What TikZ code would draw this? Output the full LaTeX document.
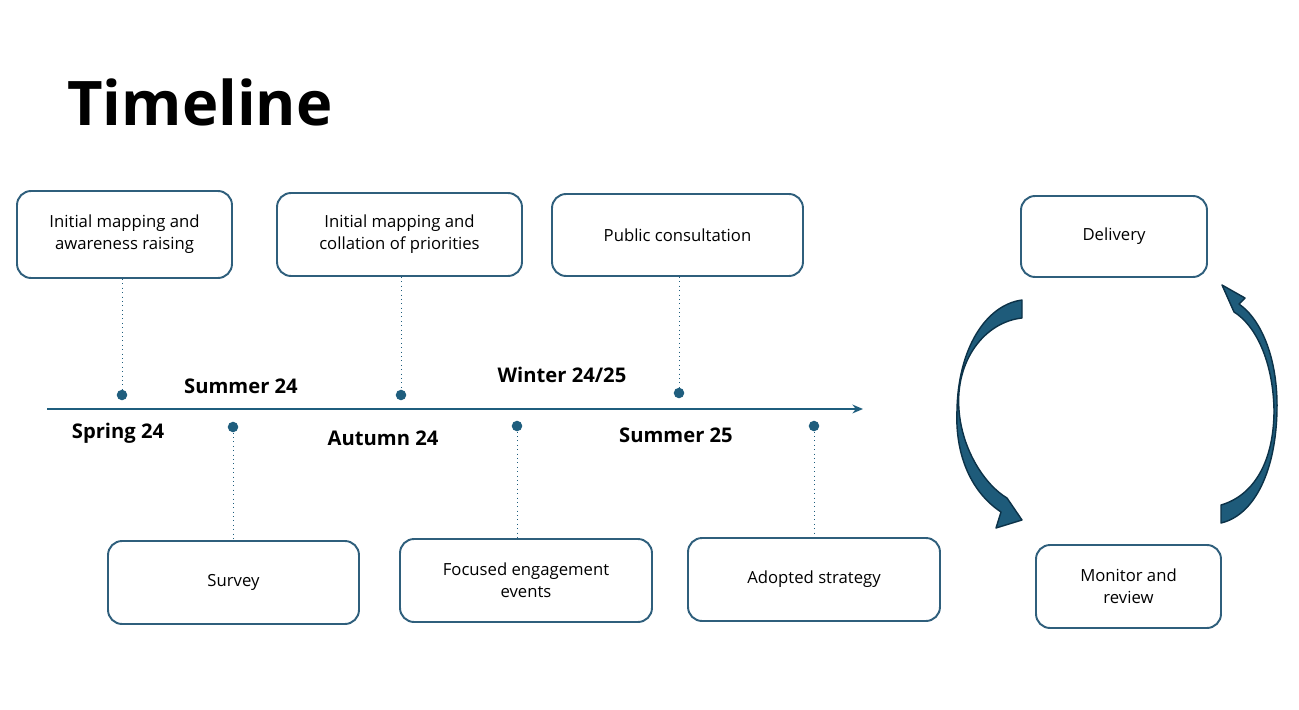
\documentclass[tikz,border=0pt]{standalone}
\usepackage{fontspec}
\setmainfont{Open Sans}
\usetikzlibrary{arrows.meta}
\definecolor{edgeblue}{HTML}{2F5F7C}
\definecolor{dotblue}{HTML}{1F5E7E}
\definecolor{arrowfill}{HTML}{1E5B7A}
\definecolor{arrowline}{HTML}{0C3248}
\tikzset{
  stage/.style={draw=edgeblue,line width=1.1pt,rounded corners=8pt,align=center,
    font=\fontsize{9.5}{12.5}\selectfont,inner sep=0pt},
  season/.style={font=\fontsize{11.5}{13}\selectfont\bfseries},
  pin/.style={fill=dotblue,circle,inner sep=0pt,minimum size=6pt},
  tie/.style={dotted,draw=dotblue,line width=0.5pt},
  cycle/.style={fill=arrowfill,draw=arrowline,line width=0.8pt,line join=round}
}
\begin{document}
\begin{tikzpicture}[x=0.02cm,y=-0.02cm]
\useasboundingbox (0,0) rectangle (1299,710);

\node[font=\fontsize{35}{40}\selectfont\bfseries] (title) at (200,102) {Timeline};

% stages above the line
\node[stage,minimum width=4.3cm,minimum height=1.74cm] (map) at (124.5,234.5) {Initial mapping and\\awareness raising};
\node[stage,minimum width=4.9cm,minimum height=1.66cm] (coll) at (399.5,234.5) {Initial mapping and\\collation of priorities};
\node[stage,minimum width=5.02cm,minimum height=1.64cm] (cons) at (677.5,235) {Public consultation};
\node[stage,minimum width=3.72cm,minimum height=1.62cm] (deliv) at (1114,236.5) {Delivery};

% stages below the line
\node[stage,minimum width=5.02cm,minimum height=1.66cm] (surv) at (233.5,582.5) {Survey};
\node[stage,minimum width=5.04cm,minimum height=1.66cm] (focus) at (526,580.5) {Focused engagement\\events};
\node[stage,minimum width=5.04cm,minimum height=1.66cm] (adopt) at (814,579.5) {Adopted strategy};
\node[stage,minimum width=3.7cm,minimum height=1.66cm] (monit) at (1128.5,586.5) {Monitor and\\review};

% time line
\coordinate (start) at (47,409);
\coordinate (stop) at (863,409);
\draw[draw=dotblue,line width=1.3pt,-{Stealth[length=6pt,width=5pt]}] (start) -- (stop);

\node[pin] (p1) at (122,395) {};
\node[pin] (p2) at (401,395) {};
\node[pin] (p3) at (679,393) {};
\node[pin] (p4) at (233,427) {};
\node[pin] (p5) at (517,426) {};
\node[pin] (p6) at (814,426) {};

\draw[tie] (map.south -| p1) -- (p1);
\draw[tie] (coll.south -| p2) -- (p2);
\draw[tie] (cons.south -| p3) -- (p3);
\draw[tie] (p4) -- (surv.north -| p4);
\draw[tie] (p5) -- (focus.north -| p5);
\draw[tie] (p6) -- (adopt.north -| p6);

\node[season] (spr) at (118,433) {Spring 24};
\node[season] (sum) at (241,386) {Summer 24};
\node[season] (aut) at (383,438) {Autumn 24};
\node[season] (win) at (562,375) {Winter 24/25};
\node[season] (sum2) at (676,435) {Summer 25};

% cycle arrows
\draw[cycle] (1022,300) -- (1022,318) .. controls (985,322) and (955,360) .. (959,410)
  .. controls (962,450) and (985,485) .. (1007,498) -- (1022,520) -- (996,528) -- (1001,512)
  .. controls (968,490) and (955,450) .. (957,410) .. controls (958,350) and (985,305) .. cycle;
\draw[cycle] (1221,523) -- (1221,505) .. controls (1255,495) and (1274,460) .. (1274,410)
  .. controls (1273,360) and (1255,325) .. (1234,312) -- (1222,285) -- (1245,298) -- (1239,304)
  .. controls (1262,320) and (1278,360) .. (1277,410) .. controls (1276,470) and (1255,515) .. cycle;
\end{tikzpicture}
\end{document}
